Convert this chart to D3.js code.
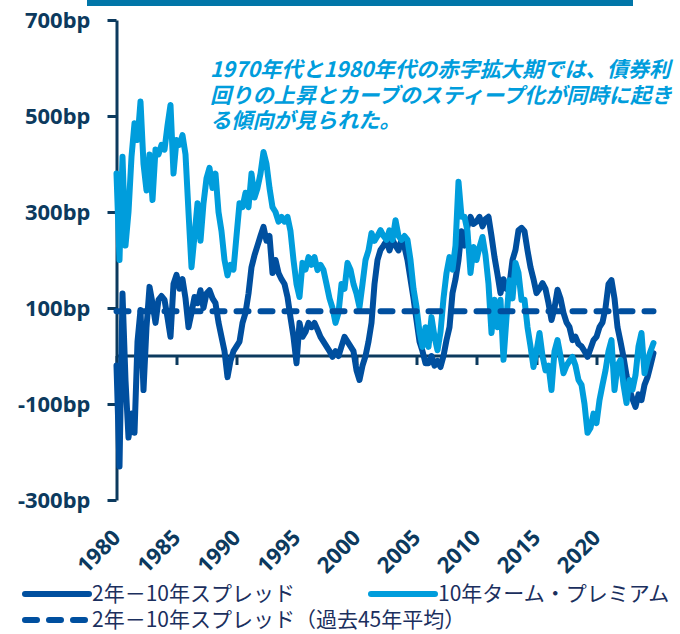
<!DOCTYPE html>
<html>
<head>
<meta charset="utf-8">
<script src="https://cdn.jsdelivr.net/npm/d3@7"></script>
<style>
  body { margin: 0; background: #fff; }
  svg { display: block; }
</style>
</head>
<body>
<svg width="680" height="634"></svg>
<script>
// quarterly values, 1980.00 .. 2024.75
var startYear = 1980,
    step = 0.25;

// 2年－10年スプレッド (bp)
var spread = [
    -20, -230, 130, -50,
    -170, -120, -160, 30,
    96, -71, 60, 144,
    110, 69, 117, 125,
    117, 80, 40, 150,
    169, 140, 160, 120,
    60, 90, 123, 110,
    137, 100, 130, 137,
    120, 110, 70, 40,
    10, -44, -10, 10,
    20, 30, 69, 90,
    130, 185, 210, 230,
    250, 269, 240, 250,
    173, 200, 173, 160,
    150, 123, 80, 40,
    -15, 69, 40, 50,
    69, 60, 69, 55,
    40, 30, 20, 10,
    -2, 10, 0, 20,
    40, 30, 20, 10,
    -30, -50, -20, 0,
    30, 69, 150, 200,
    221, 230, 240, 220,
    242, 230, 220, 242,
    227, 200, 160, 120,
    75, 30, 10, -15,
    -15, 0, -20, -10,
    -23, 0, 33, 60,
    131, 160, 200, 260,
    230, 270, 290, 275,
    280, 290, 270, 285,
    290, 250, 206, 170,
    131, 160, 140, 150,
    200, 221, 262, 267,
    260, 220, 185, 160,
    131, 140, 152, 140,
    110, 75, 100, 138,
    120, 90, 70, 60,
    33, 40, 25, 20,
    10, -2, 15, 33,
    40, 60, 70, 100,
    150, 158, 120, 60,
    30, -2, -40, -70,
    -90, -106, -80, -92,
    -60, -44, -20, 6
];

// 10年ターム・プレミアム (bp)
var termPremium = [
    380, 200, 415, 230,
    300, 415, 485, 450,
    530, 400, 345, 420,
    325, 430, 420, 440,
    430, 480, 523, 380,
    450, 440, 460, 420,
    300, 185, 250, 318,
    240, 318, 370, 392,
    350, 380, 300, 260,
    200, 168, 190, 180,
    250, 318, 310, 340,
    310, 380, 330, 350,
    380, 425, 400, 350,
    310, 300, 280, 290,
    280, 290, 260, 200,
    150, 123, 194, 180,
    206, 190, 206, 179,
    190, 179, 150, 120,
    100, 69, 90, 150,
    140, 194, 180, 150,
    130, 102, 150, 200,
    220, 256, 240, 250,
    262, 250, 242, 262,
    242, 283, 250, 242,
    250, 242, 200, 140,
    102, 50, 19, 60,
    19, 81, 40, 12,
    50, 120, 173, 206,
    180, 230, 363, 290,
    290, 260, 173, 227,
    200, 227, 248, 210,
    150, 48, 117, 60,
    117, -8, 80, 158,
    120, 194, 173, 117,
    117, 60, 20, -23,
    10, 48, 0, -30,
    -20, -71, 10, 33,
    0, -36, -20, -10,
    -2, -20, -50, -60,
    -100, -160, -150, -120,
    -140, -92, -60, -30,
    10, 33, -71, -20,
    -8, -60, -98, -50,
    -70, -40, 20, 48,
    -36, -10, 10, 27
];

var spreadAvg = 93; // 過去45年平均
var zeroLineEnd = 2023.4;

var yTicks = [-300, -100, 100, 300, 500, 700];
var xTicks = [1980, 1985, 1990, 1995, 2000, 2005, 2010, 2015, 2020];

var noteLines = [
    "1970年代と1980年代の赤字拡大期では、債券利",
    "回りの上昇とカーブのスティープ化が同時に起き",
    "る傾向が見られた。"
];
var legendItems = [
    {label: "2年－10年スプレッド", color: "#004f9f", dash: null, x: 22, y: 594},
    {label: "10年ターム・プレミアム", color: "#009ddc", dash: null, x: 368, y: 594},
    {label: "2年－10年スプレッド（過去45年平均）", color: "#004f9f", dash: "12,12", x: 22, y: 620}
];

var navy = "#0c3a5e",
    darkBlue = "#004f9f",
    lightBlue = "#009ddc";

var svg = d3.select("svg");

var x = d3.scaleLinear().domain([1980, 2025]).range([116.5, 656.5]);
var y = d3.scaleLinear().domain([-300, 700]).range([500, 20]);

// top bar
svg.append("rect")
    .attr("x", 87).attr("y", 0)
    .attr("width", 546).attr("height", 6)
    .attr("fill", "#0176a8");

// zero line with year ticks
var xAxis = svg.append("g")
    .attr("transform", "translate(0," + y(0) + ")")
    .call(d3.axisBottom(x).tickValues(xTicks).tickSize(9).tickSizeOuter(0).tickFormat(""));
xAxis.select(".domain").remove();
xAxis.selectAll(".tick line").attr("stroke", navy).attr("stroke-width", 3);
xAxis.append("line")
    .attr("x1", x(1980)).attr("x2", x(zeroLineEnd))
    .attr("stroke", navy).attr("stroke-width", 3);

// year labels
svg.append("g").selectAll("text")
    .data(xTicks)
    .enter().append("text")
    .attr("transform", function (d) {
        return "translate(" + (x(d) + 5.5) + ",539) rotate(-45)";
    })
    .attr("text-anchor", "end")
    .style("font-family", "'Noto Sans', sans-serif")
    .style("font-weight", "bold")
    .style("font-size", "22px")
    .style("fill", navy)
    .text(function (d) { return d; });

// y axis
var yAxis = svg.append("g")
    .attr("transform", "translate(" + x(1980) + ",0)")
    .call(d3.axisLeft(y).tickValues(yTicks).tickSize(9).tickSizeOuter(0).tickPadding(17)
        .tickFormat(function (d) { return d + "bp"; }));
yAxis.select(".domain").attr("stroke", navy).attr("stroke-width", 3);
yAxis.selectAll(".tick line").attr("stroke", navy).attr("stroke-width", 3);
yAxis.selectAll(".tick text")
    .style("font-family", "'Noto Sans', sans-serif")
    .style("font-weight", "bold")
    .style("font-size", "22px")
    .style("fill", navy);

var line = d3.line()
    .x(function (d, i) { return x(startYear + i * step); })
    .y(function (d) { return y(d); });

svg.append("path")
    .datum(spread)
    .attr("d", line)
    .attr("fill", "none")
    .attr("stroke", darkBlue)
    .attr("stroke-width", 6)
    .attr("stroke-linejoin", "round")
    .attr("stroke-linecap", "round");

svg.append("path")
    .datum(termPremium)
    .attr("d", line)
    .attr("fill", "none")
    .attr("stroke", lightBlue)
    .attr("stroke-width", 6)
    .attr("stroke-linejoin", "round")
    .attr("stroke-linecap", "round");

svg.append("line")
    .attr("x1", x(1980)).attr("x2", x(startYear + (spread.length - 1) * step))
    .attr("y1", y(spreadAvg)).attr("y2", y(spreadAvg))
    .attr("stroke", darkBlue)
    .attr("stroke-width", 6)
    .attr("stroke-linecap", "round")
    .attr("stroke-dasharray", "12,12");

// annotation
svg.append("text")
    .attr("x", 210).attr("y", 77)
    .style("font-family", "'Noto Sans CJK JP', sans-serif")
    .style("font-weight", "bold")
    .style("font-style", "italic")
    .style("font-size", "21.2px")
    .style("fill", lightBlue)
    .selectAll("tspan")
    .data(noteLines)
    .enter().append("tspan")
    .attr("x", 210)
    .attr("dy", function (d, i) { return i ? 25.5 : 0; })
    .text(function (d) { return d; });

// legend
var legend = svg.append("g").selectAll("g")
    .data(legendItems)
    .enter().append("g")
    .attr("transform", function (d) { return "translate(" + d.x + "," + d.y + ")"; });
legend.append("line")
    .attr("x1", 3).attr("x2", 67)
    .attr("stroke", function (d) { return d.color; })
    .attr("stroke-width", 6)
    .attr("stroke-linecap", "round")
    .attr("stroke-dasharray", function (d) { return d.dash; });
legend.append("text")
    .attr("x", 70).attr("y", 7)
    .style("font-family", "'Noto Sans CJK JP', sans-serif")
    .style("font-size", "21px")
    .style("fill", "#1b2f5e")
    .text(function (d) { return d.label; });
</script>
</body>
</html>
